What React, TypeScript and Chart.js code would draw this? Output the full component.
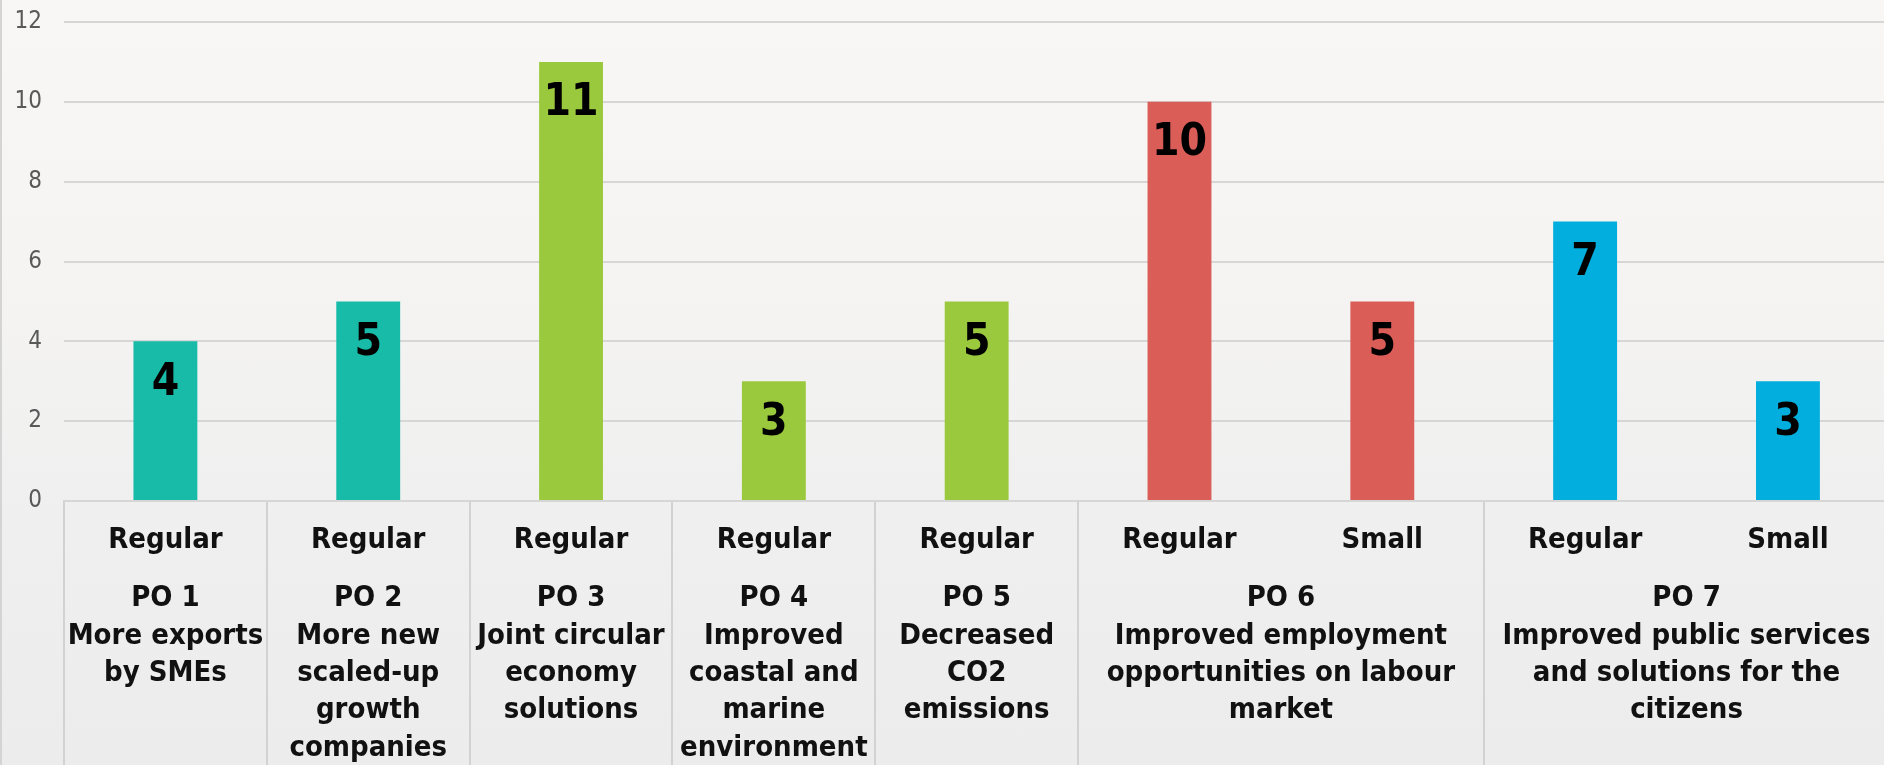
import React, { useEffect, useRef } from "react";
import { Chart, registerables } from "chart.js";

Chart.register(...registerables);

// ---- data ----
const barTypes = ["Regular", "Regular", "Regular", "Regular", "Regular", "Regular", "Small", "Regular", "Small"];
const barValues = [4, 5, 11, 3, 5, 10, 5, 7, 3];
const barColors = ["#17BBA8", "#17BBA8", "#9BC93D", "#9BC93D", "#9BC93D", "#DB5D58", "#DB5D58", "#02AEDD", "#02AEDD"];
const groupCenters = [0, 1, 2, 3, 4, 5.5, 7.5];
const groupLabels = [
  ["PO 1", "More exports", "by SMEs"],
  ["PO 2", "More new", "scaled-up", "growth", "companies"],
  ["PO 3", "Joint circular", "economy", "solutions"],
  ["PO 4", "Improved", "coastal and", "marine", "environment"],
  ["PO 5", "Decreased", "CO2", "emissions"],
  ["PO 6", "Improved employment", "opportunities on labour", "market"],
  ["PO 7", "Improved public services", "and solutions for the", "citizens"],
];
const hiddenSeparators = [6, 8];
const yTicksMin = 0;
const yTicksMax = 12;
const yTicksStep = 2;

const FAMILY = '"DejaVu Sans Condensed", "DejaVu Sans", sans-serif';

const valueLabels = {
  id: "valueLabels",
  afterDatasetsDraw(chart: any) {
    const ctx = chart.ctx;
    const meta = chart.getDatasetMeta(0);
    const data = chart.data.datasets[0].data;
    ctx.save();
    ctx.font = `bold 44px ${FAMILY}`;
    ctx.fillStyle = "#000";
    ctx.textAlign = "center";
    ctx.textBaseline = "middle";
    meta.data.forEach((el: any, i: number) => {
      ctx.fillText(String(data[i]), el.x, el.y + 42);
    });
    ctx.restore();
  },
};

export default function App() {
  const ref = useRef<HTMLCanvasElement>(null);

  useEffect(() => {
    document.body.style.margin = "0";
    const chart = new Chart(ref.current as HTMLCanvasElement, {
      type: "bar",
      data: {
        labels: barTypes,
        datasets: [
          {
            data: barValues,
            backgroundColor: barColors,
            xAxisID: "x",
            yAxisID: "y",
            categoryPercentage: 1,
            barPercentage: 0.315,
          },
        ],
      },
      plugins: [valueLabels],
      options: {
        responsive: false,
        animation: false,
        layout: { padding: { top: 22, left: 0, right: 0, bottom: 0 } },
        plugins: { legend: { display: false }, tooltip: { enabled: false } },
        scales: {
          x: {
            type: "category",
            position: "bottom",
            weight: 0,
            offset: true,
            grid: {
              offset: true,
              drawOnChartArea: false,
              drawTicks: true,
              tickLength: 270,
              lineWidth: 2,
              color: (c: any) => (hiddenSeparators.includes(c.index) ? "rgba(0,0,0,0)" : "#d2d2d2"),
              tickColor: (c: any) => (hiddenSeparators.includes(c.index) ? "rgba(0,0,0,0)" : "#d2d2d2"),
            },
            border: { display: true, color: "#d6d6d6", width: 2 },
            ticks: {
              autoSkip: false,
              maxRotation: 0,
              padding: -248,
              color: "#111",
              font: { family: FAMILY, size: 29, weight: "bold", lineHeight: 1.2 },
            },
            afterFit: (s: any) => {
              s.height = 56;
            },
          },
          x2: {
            type: "linear",
            position: "bottom",
            weight: 1,
            offset: false,
            min: -0.5,
            max: 8.5,
            bounds: "data",
            grid: { display: false, drawTicks: false },
            border: { display: false },
            afterBuildTicks: (s: any) => {
              s.ticks = groupCenters.map((v) => ({ value: v }));
            },
            ticks: {
              autoSkip: false,
              maxRotation: 0,
              padding: 23,
              color: "#111",
              font: { family: FAMILY, size: 29, weight: "bold", lineHeight: 1.29 },
              callback: (_v: any, i: number) => groupLabels[i],
            },
            afterFit: (s: any) => {
              s.height = 243;
            },
          },
          y: {
            min: yTicksMin,
            max: yTicksMax,
            border: { display: false },
            grid: { color: "#d6d6d6", lineWidth: 2, drawTicks: false },
            ticks: {
              stepSize: yTicksStep,
              padding: 22,
              color: "#595959",
              font: { family: FAMILY, size: 24 },
            },
            afterFit: (s: any) => {
              s.width = 64;
              s.paddingTop = 0;
              s.paddingBottom = 0;
            },
          },
        },
      },
    } as any);
    return () => chart.destroy();
  }, []);

  return (
    <div
      style={{
        position: "relative",
        width: 1884,
        height: 765,
        overflow: "hidden",
        background: "linear-gradient(to bottom, #f9f7f6 0%, #f5f4f3 35%, #efefef 70%, #ececec 100%)",
        boxShadow: "inset 2px 0 0 #d4d4d4",
      }}
    >
      <canvas ref={ref} width={1894} height={800} style={{ width: 1894, height: 800, display: "block" }} />
    </div>
  );
}
